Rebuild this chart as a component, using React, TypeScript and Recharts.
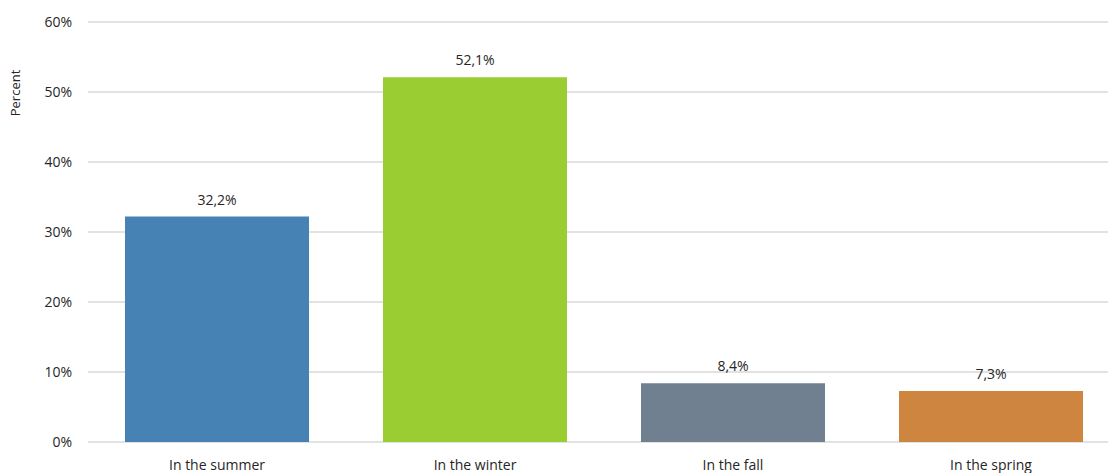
import { BarChart, Bar, XAxis, YAxis, CartesianGrid, Cell, LabelList, Label } from 'recharts'

const seasons = ['In the summer', 'In the winter', 'In the fall', 'In the spring']
const percents = [32.2, 52.1, 8.4, 7.3]
const barColors = ['#4682B4', '#9ACD32', '#708090', '#CD853F']
const yTicks = [0, 10, 20, 30, 40, 50, 60]

const data = seasons.map((season, i) => ({ season, value: percents[i] }))

const font = "'Open Sans', 'Noto Sans', sans-serif"

const App = () => {
	return (
		<div style={{ position: 'absolute', left: 0, top: 0, width: 1108, height: 473, overflow: 'hidden', background: '#fff', fontFamily: font }}>
			<BarChart
				width={1122}
				height={473}
				data={data}
				margin={{ top: 22, right: 2, bottom: 0, left: 0 }}
			>
				<CartesianGrid vertical={false} stroke="#d9d9d9" strokeWidth={1.5} />
				<XAxis
					dataKey="season"
					axisLine={false}
					tickLine={false}
					tickMargin={12}
					height={31}
					tick={{ fontSize: 14, fill: '#262626', fontFamily: font }}
				/>
				<YAxis
					type="number"
					domain={[0, 60]}
					ticks={yTicks}
					width={88}
					axisLine={false}
					tickLine={false}
					tickMargin={10}
					tickFormatter={(v: number) => `${v}%`}
					tick={{ fontSize: 14, fill: '#262626', fontFamily: font }}
				>
					<Label
						content={() => (
							<text x={20} y={93} transform="rotate(-90 20 93)" textAnchor="middle" fontSize={13} fill="#262626" fontFamily={font}>
								Percent
							</text>
						)}
					/>
				</YAxis>
				<Bar dataKey="value" barSize={184} isAnimationActive={false}>
					{data.map((d, i) => (
						<Cell key={d.season} fill={barColors[i]} />
					))}
					<LabelList
						dataKey="value"
						position="top"
						offset={12}
						formatter={(v: any) => `${Number(v).toFixed(1).replace('.', ',')}%`}
						style={{ fontSize: 14, fill: '#262626', fontFamily: font }}
					/>
				</Bar>
			</BarChart>
		</div>
	)
}

export default App
